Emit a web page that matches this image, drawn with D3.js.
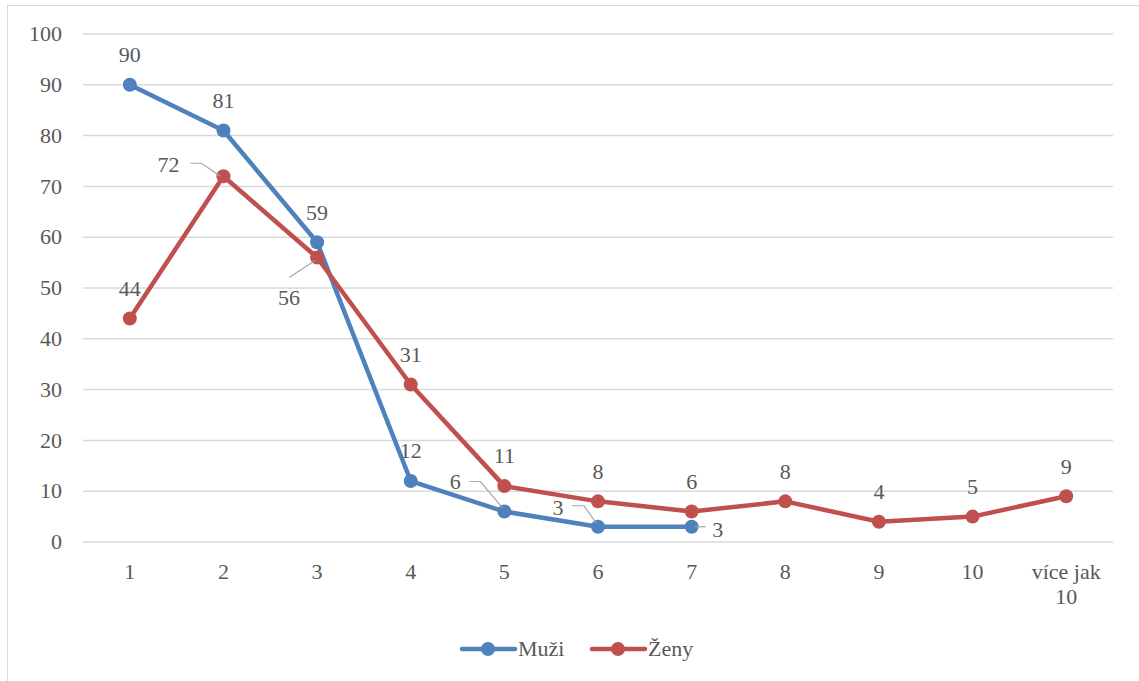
<!DOCTYPE html>
<html>
<head>
<meta charset="utf-8">
<script src="https://cdn.jsdelivr.net/npm/d3@7"></script>
<style>
  body { margin: 0; background: #fff; }
</style>
</head>
<body>
<script>
const categories = ["1", "2", "3", "4", "5", "6", "7", "8", "9", "10", "více jak 10"];
const muzi = [90, 81, 59, 12, 6, 3, 3, null, null, null, null];
const zeny = [44, 72, 56, 31, 11, 8, 6, 8, 4, 5, 9];
const yTicks = [0, 10, 20, 30, 40, 50, 60, 70, 80, 90, 100];

// label placement per point: offset of text centre, optional leader line
const muziLabels = [
  {dx: 0, dy: -30}, {dx: 0, dy: -30}, {dx: 0, dy: -30}, {dx: 0, dy: -30},
  {dx: -49, dy: -30, leader: [[-35, -30], [-24, -30], [-2, -4]]},
  {dx: -40, dy: -19, leader: [[-26, -21], [-14, -21], [-2, -4]]},
  {dx: 26, dy: 3, leader: [[3, 0], [14, 0]]}
];
const zenyLabels = [
  {dx: 0, dy: -30},
  {dx: -55, dy: -12, leader: [[-33, -13], [-22, -13], [-3, 0]]},
  {dx: -28, dy: 40, leader: [[-28, 20], [-2, 3]]},
  {dx: 0, dy: -30}, {dx: 0, dy: -30}, {dx: 0, dy: -30}, {dx: 0, dy: -30},
  {dx: 0, dy: -30}, {dx: 0, dy: -30}, {dx: 0, dy: -30}, {dx: 0, dy: -30}
];

const width = 1139, height = 681;
const blue = "#4f81bd", red = "#c0504d";
const serifFont = "'Liberation Serif', 'Times New Roman', serif";
const textColor = "#595959";

const svg = d3.select("body").append("svg")
  .attr("width", width)
  .attr("height", height);

function styleText(sel, size) {
  return sel
    .attr("font-family", "Liberation Serif")
    .style("font-family", serifFont)
    .attr("font-size", size)
    .attr("fill", textColor);
}

svg.append("rect")
  .attr("x", 7.5).attr("y", 5.5)
  .attr("width", 1140).attr("height", 690)
  .attr("fill", "#fff")
  .attr("stroke", "#d9d9d9");

const x = d3.scaleBand().domain(categories).range([83, 1113]);
const y = d3.scaleLinear().domain([0, 100]).range([542, 34]);
const cx = c => x(c) + x.bandwidth() / 2;

// gridlines
svg.append("g")
  .selectAll("line")
  .data(yTicks)
  .join("line")
  .attr("x1", 83).attr("x2", 1113)
  .attr("y1", d => y(d)).attr("y2", d => y(d))
  .attr("stroke", "#d9d9d9")
  .attr("stroke-width", 1.5);

// y axis labels
styleText(svg.append("g")
  .selectAll("text")
  .data(yTicks)
  .join("text")
  .attr("x", 62)
  .attr("y", d => y(d))
  .attr("dy", "0.33em")
  .attr("text-anchor", "end"), 22)
  .text(d => d);

// x axis labels
const xl = styleText(svg.append("g")
  .selectAll("text")
  .data(categories)
  .join("text")
  .attr("text-anchor", "middle")
  .attr("y", 579), 22);
xl.each(function(d) {
  const t = d3.select(this);
  if (d === "více jak 10") {
    t.append("tspan").attr("x", cx(d)).text("více jak");
    t.append("tspan").attr("x", cx(d)).attr("dy", 25).text("10");
  } else {
    t.attr("x", cx(d)).text(d);
  }
});

function drawSeries(values, color) {
  const pts = values.map((v, i) => ({c: categories[i], v, i})).filter(d => d.v !== null);
  const line = d3.line().x(d => cx(d.c)).y(d => y(d.v));
  svg.append("path")
    .datum(pts)
    .attr("fill", "none")
    .attr("stroke", color)
    .attr("stroke-width", 4.5)
    .attr("stroke-linejoin", "round")
    .attr("stroke-linecap", "round")
    .attr("d", line);
  svg.append("g")
    .selectAll("circle")
    .data(pts)
    .join("circle")
    .attr("cx", d => cx(d.c))
    .attr("cy", d => y(d.v))
    .attr("r", 7)
    .attr("fill", color);
  return pts;
}

function drawLabels(pts, labels) {
  const g = svg.append("g");
  pts.forEach(d => {
    const l = labels[d.i];
    const px = cx(d.c), py = y(d.v);
    if (l.leader) {
      g.append("polyline")
        .attr("points", l.leader.map(p => [px + p[0], py + p[1]].join(",")).join(" "))
        .attr("fill", "none")
        .attr("stroke", "#a6a6a6")
        .attr("stroke-width", 1.2);
    }
    styleText(g.append("text")
      .attr("x", px + l.dx)
      .attr("y", py + l.dy)
      .attr("dy", "0.33em")
      .attr("text-anchor", "middle"), 22)
      .text(d.v);
  });
}

const pm = drawSeries(muzi, blue);
const pz = drawSeries(zeny, red);
drawLabels(pm, muziLabels);
drawLabels(pz, zenyLabels);

// legend
const legend = [{name: "Muži", color: blue, x: 460}, {name: "Ženy", color: red, x: 590}];
const lg = svg.append("g").selectAll("g").data(legend).join("g")
  .attr("transform", d => `translate(${d.x},649)`);
lg.append("line")
  .attr("x1", 2).attr("x2", 55)
  .attr("stroke", d => d.color)
  .attr("stroke-width", 4.5)
  .attr("stroke-linecap", "round");
lg.append("circle").attr("cx", 28).attr("r", 7).attr("fill", d => d.color);
styleText(lg.append("text")
  .attr("x", 58)
  .attr("dy", "0.33em"), 22)
  .text(d => d.name);
</script>
</body>
</html>
